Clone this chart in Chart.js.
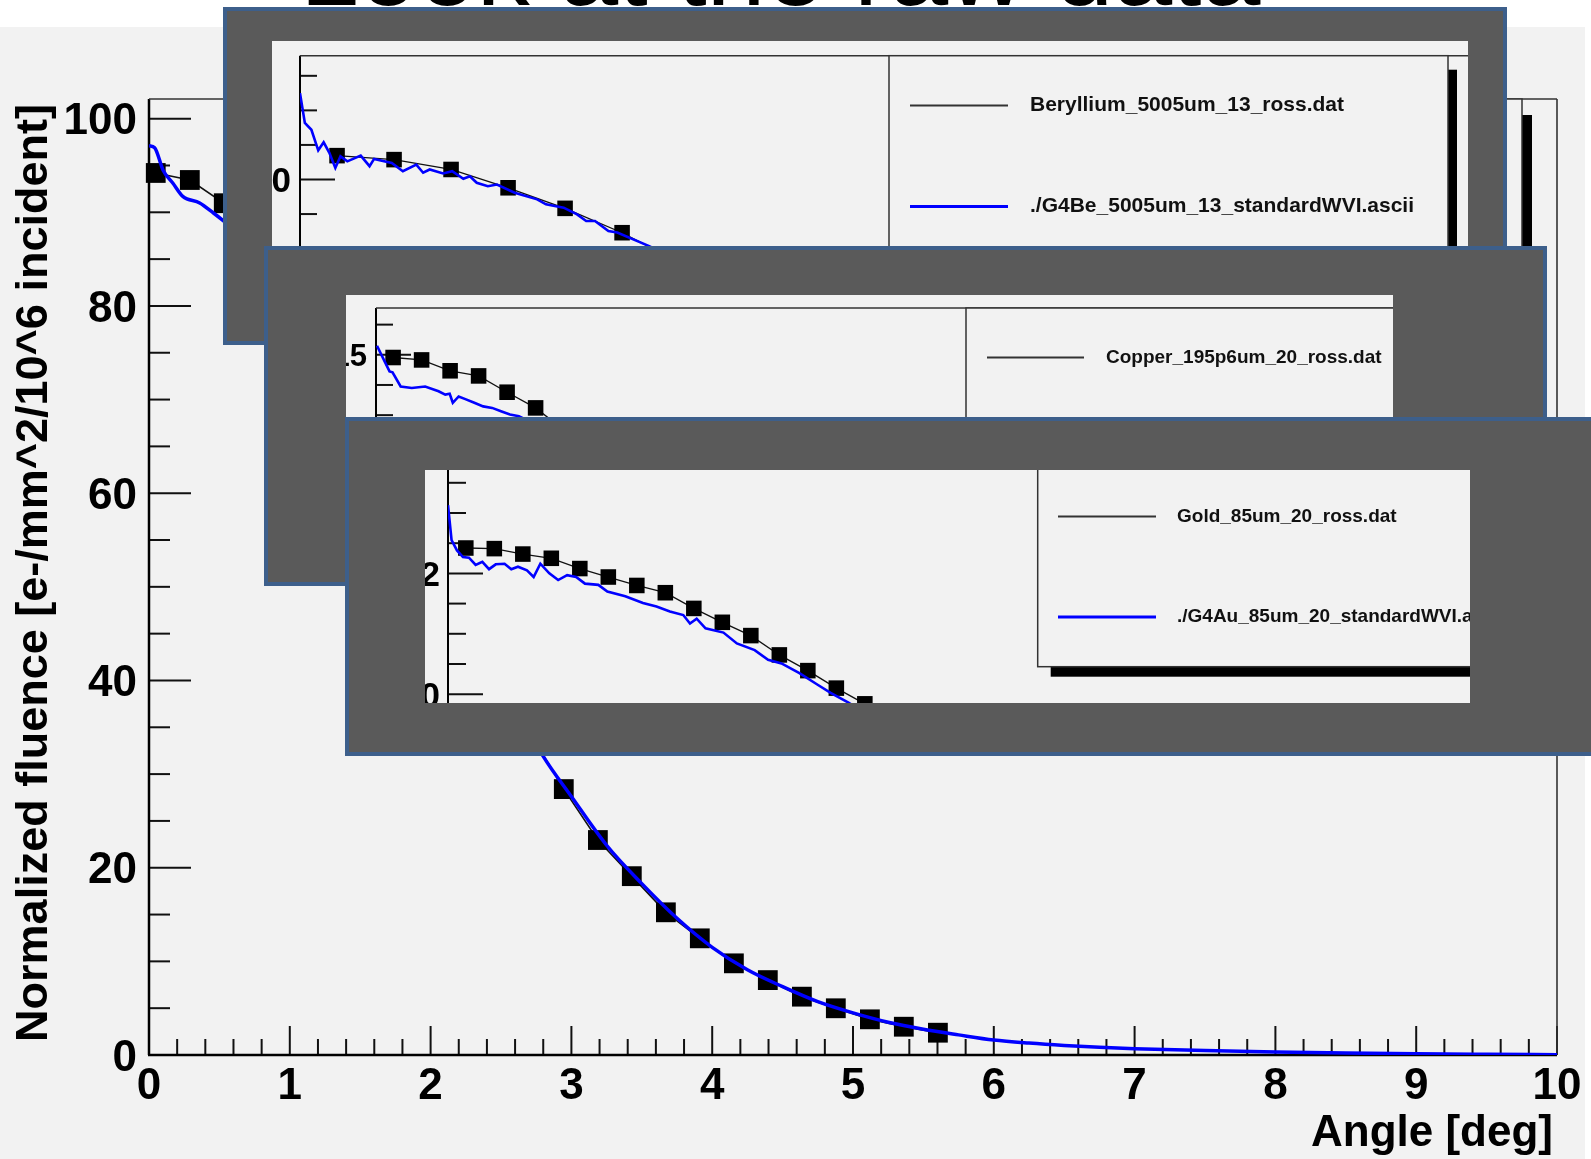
<!DOCTYPE html>
<html><head><meta charset="utf-8">
<script src="https://cdn.jsdelivr.net/npm/chart.js@4.4.1/dist/chart.umd.min.js"></script>
<style>
html,body{margin:0;padding:0;background:#fff;width:1591px;height:1159px;overflow:hidden;}
#page{position:relative;width:1591px;height:1159px;overflow:hidden;background:#fff;}
#bg{position:absolute;left:0;top:27px;width:1585px;height:1132px;background:#f2f2f2;}
#slideTitle{position:absolute;left:300px;top:-85px;font-family:"Liberation Sans",Arial,sans-serif;font-size:106px;line-height:106px;white-space:nowrap;color:#000;}
canvas{position:absolute;left:0;top:0;}
.outer{position:absolute;background:#5a5a5a;border:4px solid #3d5f8b;box-sizing:border-box;}
.panel{position:absolute;background:#f2f2f2;overflow:hidden;}
</style></head>
<body><div id="page">
<div id="bg"></div>
<div id="slideTitle">Look at the raw data</div>
<canvas id="main" width="1591" height="1159"></canvas>
<div class="outer" style="left:223px;top:7px;width:1284px;height:338px;"></div>
<div class="panel" style="left:272px;top:41px;width:1196px;height:269px;"><canvas id="be" width="1240" height="269"></canvas></div>
<div class="outer" style="left:264px;top:246px;width:1283px;height:340px;"></div>
<div class="panel" style="left:346px;top:295px;width:1047px;height:260px;"><canvas id="cu" width="1100" height="260" style="left:-1px"></canvas></div>
<div class="outer" style="left:345px;top:417px;width:1270px;height:339px;"></div>
<div class="panel" style="left:425px;top:470px;width:1045px;height:233px;"><canvas id="au" width="1100" height="300" style="top:-40px"></canvas></div>
</div>
<script>
// ---------- main plot data ----------
const angleTicks = [0,1,2,3,4,5,6,7,8,9,10];
const angleTickLabels = ['0','1','2','3','4','5','6','7','8','9','10'];
const fluenceTicks = [0,20,40,60,80,100];
const fluenceTickLabels = ['0','20','40','60','80','100'];
const xTitle = 'Angle [deg]';
const yTitle = 'Normalized fluence [e-/mm^2/10^6 incident]';

const rossAngle = [0.048,0.290,0.531,0.773,1.014,1.256,1.497,1.739,1.980,2.222,2.463,2.705,2.946,3.188,3.429,3.671,3.912,4.154,4.395,4.637,4.878,5.120,5.361,5.603];
const rossFluence = [94.2,93.45,90.97,86.5,81.0,75.5,69.0,62.0,55.0,48.0,41.0,34.4,28.4,22.96,19.1,15.24,12.46,9.79,8.0,6.23,4.99,3.81,3.02,2.38];

const g4Angle = [0.0,0.04,0.1,0.17,0.24,0.36,0.46,0.52,0.75,1.0,1.25,1.5,1.75,2.0,2.25,2.5,2.8,3.0,3.25,3.5,3.75,4.0,4.25,4.5,4.75,5.0,5.25,5.5,5.75,6.0,6.25,6.5,6.75,7.0,7.5,8.0,8.5,9.0,9.5,10.0];
const g4Fluence = [97.1,96.9,94.5,93.1,91.7,91.0,89.9,89.2,86.3,81.8,76.3,70.0,62.8,55.3,47.5,40.0,31.9,27.6,22.4,18.3,14.6,11.5,9.1,7.3,5.7,4.5,3.5,2.75,2.15,1.6,1.27,1.02,0.83,0.68,0.47,0.32,0.21,0.13,0.08,0.04];

// ---------- inset 1 (Beryllium) ----------
const beRossAngle = [0.13,0.33,0.53,0.73,0.93,1.13,1.33,1.53];
const beRossFluence = [31.38,31.15,30.58,29.52,28.33,26.92,25.2,23.3];
const beG4Angle = [0.0,0.017,0.040,0.064,0.083,0.103,0.124,0.142,0.166,0.213,0.244,0.260,0.322,0.361,0.408,0.432,0.455,0.502,0.534,0.573,0.596,0.620,0.659,0.691,0.753,0.832,0.863,0.925,0.972,1.004,1.035,1.082,1.113,1.223,1.35,1.5];
const beG4Fluence = [35.0,33.27,32.88,31.69,32.15,31.54,30.67,31.34,31.05,31.38,30.77,31.19,30.96,30.48,30.86,30.39,30.58,30.35,30.48,30.04,30.19,29.81,29.61,29.71,29.23,28.85,28.56,28.37,27.98,27.60,27.60,27.02,26.93,26.16,25.2,24.0];
const beTicks = [30];
const beTickLabels = ['30'];
const beLegend = ['Beryllium_5005um_13_ross.dat','./G4Be_5005um_13_standardWVI.ascii'];

// ---------- inset 2 (Copper) ----------
const cuRossAngle = [0.12,0.32,0.52,0.72,0.92,1.12,1.32,1.52];
const cuRossFluence = [14.91,14.83,14.47,14.30,13.76,13.24,12.5,11.6];
const cuG4Angle = [0.007,0.095,0.116,0.173,0.251,0.345,0.439,0.486,0.517,0.539,0.580,0.627,0.690,0.752,0.815,0.877,0.940,1.003,1.2,1.4];
const cuG4Fluence = [15.30,14.45,14.42,13.95,13.90,13.95,13.79,13.68,13.71,13.41,13.62,13.53,13.41,13.29,13.24,13.13,13.02,12.96,12.5,11.9];
const cuTicks = [15];
const cuTickLabels = ['15'];
const cuLegend = ['Copper_195p6um_20_ross.dat'];

// ---------- inset 3 (Gold) ----------
const auRossAngle = [0.125,0.325,0.525,0.725,0.925,1.125,1.325,1.525,1.725,1.925,2.125,2.325,2.525,2.725,2.925,3.125];
const auRossFluence = [12.42,12.41,12.32,12.25,12.08,11.94,11.80,11.68,11.42,11.19,10.97,10.65,10.39,10.10,9.84,9.55];
const auG4Angle = [0.0,0.025,0.063,0.105,0.147,0.194,0.241,0.288,0.335,0.397,0.444,0.491,0.554,0.601,0.648,0.711,0.773,0.836,0.899,0.961,1.055,1.118,1.244,1.368,1.463,1.557,1.651,1.698,1.745,1.807,1.933,2.027,2.152,2.246,2.340,2.466,2.591,2.685,2.810,2.95];
const auG4Fluence = [13.13,12.55,12.38,12.27,12.26,12.14,12.19,12.07,12.15,12.16,12.07,12.11,12.05,11.94,12.16,12.00,11.89,11.97,11.94,11.83,11.81,11.70,11.62,11.51,11.45,11.37,11.31,11.17,11.25,11.09,11.02,10.84,10.73,10.57,10.51,10.35,10.16,10.02,9.86,9.65];
const auTicks = [10,12];
const auTickLabels = ['10','12'];
const auLegend = ['Gold_85um_20_ross.dat','./G4Au_85um_20_standardWVI.ascii'];

// ---------- helpers ----------
const FONT = '"Liberation Sans", Arial, Helvetica, sans-serif';
function pts(xs, ys){ return xs.map((x,i)=>({x:x, y:ys[i]})); }
function seg(ctx,x0,y0,x1,y1){ ctx.beginPath(); ctx.moveTo(x0,y0); ctx.lineTo(x1,y1); ctx.stroke(); }
function isMult(v,s){ const r=v/s; return Math.abs(r-Math.round(r))<1e-6; }

function rootPlugin(o){
  return {
    id:'rootStyle',
    beforeDatasetsDraw(chart){
      const ctx=chart.ctx, a=chart.chartArea, xs=chart.scales.x, ys=chart.scales.y;
      ctx.save();
      ctx.lineCap='butt';
      ctx.strokeStyle='#111'; ctx.lineWidth=o.tickW;
      if(o.yMinor){
        const k0=Math.ceil(ys.min/o.yMinor-1e-9), k1=Math.floor(ys.max/o.yMinor+1e-9);
        for(let k=k0;k<=k1;k++){
          const v=k*o.yMinor, p=ys.getPixelForValue(v);
          const L=isMult(v,o.yMajor)?o.yMajorLen:o.yMinorLen;
          seg(ctx,a.left,p,a.left+L,p);
        }
      }
      if(o.xMinor){
        const k0=Math.ceil(xs.min/o.xMinor-1e-9), k1=Math.floor(xs.max/o.xMinor+1e-9);
        for(let k=k0;k<=k1;k++){
          const v=k*o.xMinor, p=xs.getPixelForValue(v);
          const L=isMult(v,o.xMajor)?o.xMajorLen:o.xMinorLen;
          seg(ctx,p,a.bottom,p,a.bottom-L);
        }
      }
      ctx.strokeStyle='#000'; ctx.lineWidth=o.axisW;
      seg(ctx,a.left,a.top,a.left,a.bottom);
      if(o.bottomAxis) seg(ctx,a.left-1,a.bottom,a.right,a.bottom);
      ctx.strokeStyle='#333'; ctx.lineWidth=o.frameW;
      seg(ctx,a.left,a.top,a.right,a.top);
      seg(ctx,a.right,a.top,a.right,a.bottom);
      ctx.fillStyle='#000';
      ctx.font=o.yFont; ctx.textAlign='right'; ctx.textBaseline='alphabetic';
      o.yLabelVals.forEach((v,i)=>{ ctx.fillText(o.yLabelTexts[i], a.left-o.yGap, ys.getPixelForValue(v)+o.yCapHalf); });
      if(o.xLabelVals){
        ctx.font=o.xFont; ctx.textAlign='center';
        o.xLabelVals.forEach((v,i)=>{ ctx.fillText(o.xLabelTexts[i], xs.getPixelForValue(v), a.bottom+o.xDy); });
      }
      if(o.titles) o.titles(ctx,a);
      ctx.restore();
    },
    afterDatasetsDraw(chart){
      const L=o.legend; if(!L) return;
      const ctx=chart.ctx;
      ctx.save();
      const [l,t,r,b]=L.box;
      ctx.fillStyle='#000'; ctx.fillRect(l+L.shadow[0], t+L.shadow[1], r-l, b-t);
      ctx.fillStyle='#f2f2f2'; ctx.fillRect(l,t,r-l,b-t);
      ctx.strokeStyle='#333'; ctx.lineWidth=1.5; ctx.strokeRect(l,t,r-l,b-t);
      L.entries.forEach(e=>{
        ctx.strokeStyle=e.color; ctx.lineWidth=e.lw; seg(ctx,L.lineX[0],e.y,L.lineX[1],e.y);
        ctx.fillStyle='#111'; ctx.font=L.font; ctx.textAlign='left'; ctx.textBaseline='middle';
        ctx.fillText(e.text, L.textX, e.y);
      });
      ctx.restore();
    }
  };
}

function makeChart(id, c){
  return new Chart(document.getElementById(id), {
    type:'scatter',
    data:{ datasets:[
      { data:pts(c.g4x,c.g4y), showLine:true, borderColor:'#0000ff', borderWidth:c.blueW, pointRadius:0,
        tension:0, cubicInterpolationMode:c.mono?'monotone':'default' },
      { data:pts(c.rx,c.ry), showLine:true, borderColor:'#111', borderWidth:c.blackW, pointStyle:'rect',
        pointRadius:c.sq, pointBackgroundColor:'#000', pointBorderWidth:0, clip:false }
    ]},
    options:{
      responsive:false, animation:false, events:[], devicePixelRatio:1,
      layout:{ padding:c.pad },
      plugins:{ legend:{display:false}, tooltip:{enabled:false}, title:{display:false} },
      scales:{
        x:{ type:'linear', display:false, min:c.xmin, max:c.xmax },
        y:{ type:'linear', display:false, min:c.ymin, max:c.ymax }
      }
    },
    plugins:[ rootPlugin(c.style) ]
  });
}

// ---------- main ----------
makeChart('main', {
  g4x:g4Angle, g4y:g4Fluence, rx:rossAngle, ry:rossFluence,
  blueW:3.5, blackW:1.6, sq:14, mono:true,
  pad:{left:149, top:99, right:34, bottom:104},
  xmin:0, xmax:10, ymin:0, ymax:102.1,
  style:{
    tickW:2, axisW:2.5, frameW:1.6, bottomAxis:true,
    yMinor:5, yMajor:20, yMajorLen:42, yMinorLen:21,
    xMinor:0.2, xMajor:1, xMajorLen:29, xMinorLen:16,
    yLabelVals:fluenceTicks, yLabelTexts:fluenceTickLabels, yFont:'bold 44px '+FONT, yGap:12, yCapHalf:15.7,
    xLabelVals:angleTicks, xLabelTexts:angleTickLabels, xFont:'bold 44px '+FONT, xDy:44,
    titles:(ctx,a)=>{
      ctx.font='bold 44px '+FONT; ctx.textAlign='right'; ctx.textBaseline='alphabetic';
      ctx.fillText(xTitle, a.right-4, 1146);
      ctx.save(); ctx.translate(47, 573); ctx.rotate(-Math.PI/2);
      ctx.font='bold 45px '+FONT; ctx.textAlign='center';
      ctx.fillText(yTitle, 0, 0); ctx.restore();
    },
    legend:{ box:[880,99,1522,600], shadow:[10,16], lineX:[0,0], textX:0, font:'20px '+FONT, entries:[] }
  }
});

// ---------- inset 1 ----------
makeChart('be', {
  g4x:beG4Angle, g4y:beG4Fluence, rx:beRossAngle, ry:beRossFluence,
  blueW:2.6, blackW:1.3, sq:11, mono:false,
  pad:{left:28, top:14.7, right:22, bottom:10},
  xmin:0, xmax:4.175, ymin:23.084, ymax:37.164,
  style:{
    tickW:2, axisW:2, frameW:1.5, bottomAxis:false,
    yMinor:2, yMajor:10, yMajorLen:35, yMinorLen:17,
    yLabelVals:beTicks, yLabelTexts:beTickLabels, yFont:'bold 35px '+FONT, yGap:9, yCapHalf:12.5,
    legend:{ box:[617,14.7,1176,300], shadow:[9,14], lineX:[638,736], textX:758, font:'bold 21px '+FONT,
      entries:[ {text:beLegend[0], color:'#333', lw:1.8, y:64.5}, {text:beLegend[1], color:'#0000ff', lw:3, y:165.5} ] }
  }
});

// ---------- inset 2 ----------
makeChart('cu', {
  g4x:cuG4Angle, g4y:cuG4Fluence, rx:cuRossAngle, ry:cuRossFluence,
  blueW:2.6, blackW:1.3, sq:11, mono:false,
  pad:{left:31, top:13, right:25, bottom:10},
  xmin:0, xmax:7.326, ymin:8.729, ymax:16.551,
  style:{
    tickW:2, axisW:2, frameW:1.5, bottomAxis:false,
    yMinor:1, yMajor:5, yMajorLen:35, yMinorLen:17,
    yLabelVals:cuTicks, yLabelTexts:cuTickLabels, yFont:'bold 31px '+FONT, yGap:9, yCapHalf:11.1,
    legend:{ box:[621,13,1095,400], shadow:[9,14], lineX:[642,739], textX:761, font:'bold 19px '+FONT,
      entries:[ {text:cuLegend[0], color:'#333', lw:1.8, y:62.5} ] }
  }
});

// ---------- inset 3 ----------
makeChart('au', {
  g4x:auG4Angle, g4y:auG4Fluence, rx:auRossAngle, ry:auRossFluence,
  blueW:2.6, blackW:1.3, sq:11, mono:false,
  pad:{left:23, top:10, right:25, bottom:10},
  xmin:0, xmax:7.382, ymin:9.589, ymax:14.192,
  style:{
    tickW:2, axisW:2, frameW:1.5, bottomAxis:false,
    yMinor:0.5, yMajor:2, yMajorLen:35, yMinorLen:18,
    yLabelVals:auTicks, yLabelTexts:auTickLabels, yFont:'bold 35px '+FONT, yGap:8, yCapHalf:12.5,
    legend:{ box:[612.7,-10,1095,236.7], shadow:[13,10], lineX:[633,731], textX:752, font:'bold 19px '+FONT,
      entries:[ {text:auLegend[0], color:'#333', lw:1.8, y:86.5}, {text:auLegend[1], color:'#0000ff', lw:3, y:187} ] }
  }
});
</script>
</body></html>
